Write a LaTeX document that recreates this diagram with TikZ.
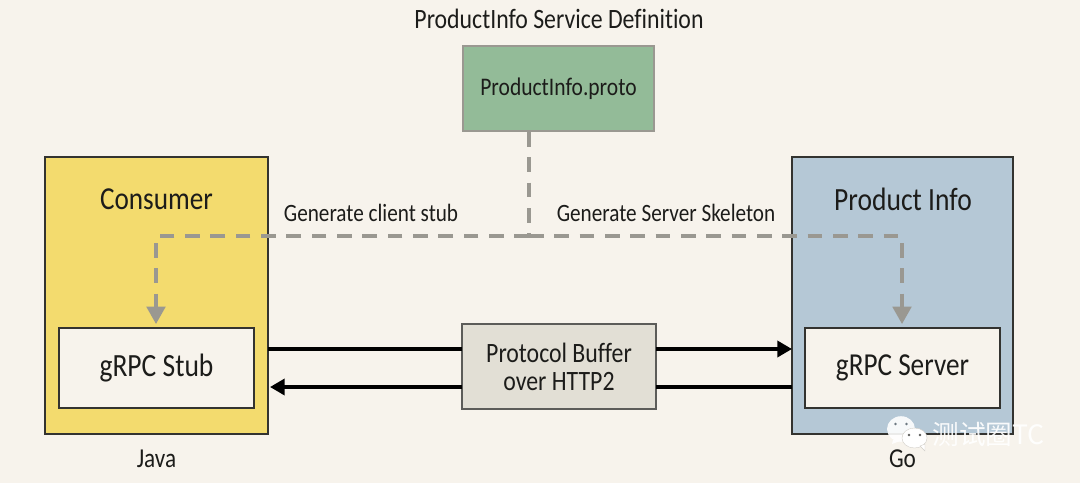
\documentclass[tikz,border=0pt]{standalone}
\usepackage{fontspec}
\setmainfont[FakeStretch=0.85,Ligatures=NoCommon]{Carlito}
\newfontfamily\cjk{Noto Sans CJK SC}
\usetikzlibrary{arrows.meta}
\definecolor{bgc}{HTML}{F7F3EC}
\definecolor{yel}{HTML}{F3DB6E}
\definecolor{blu}{HTML}{B5C8D6}
\definecolor{grn}{HTML}{93BB98}
\definecolor{pbc}{HTML}{E2DFD5}
\definecolor{dsh}{HTML}{9A9891}
\definecolor{edge}{HTML}{333330}
\definecolor{txt}{HTML}{1C1C1A}
\tikzset{
  box/.style={draw=edge,line width=1.3pt,inner sep=0pt,text=txt,align=center},
  label/.style={inner sep=0pt,text=txt},
  gen/.style={draw=dsh,line width=2.3pt,dash pattern=on 11pt off 8pt},
  genarrow/.style={gen,-{Triangle[length=13pt,width=14pt,fill=dsh]}},
  flow/.style={draw=black,line width=2.6pt},
  flowarrow/.style={flow,-{Triangle[length=11pt,width=12pt,fill=black]}}
}
\begin{document}
\begin{tikzpicture}[x=0.75pt,y=-0.75pt]
\useasboundingbox[fill=bgc] (0,0) rectangle (1080,483);
\node[box,fill=yel,minimum width=167pt,minimum height=208pt] (consumer) at (156.5,295.5) {};
\node[box,fill=blu,minimum width=166pt,minimum height=208pt] (info) at (902.5,295.5) {};
\node[box,fill=bgc,minimum width=146pt,minimum height=60pt,font=\fontsize{24.3}{26}\selectfont] (stub) at (156.5,368) {gRPC Stub};
\node[box,fill=bgc,minimum width=146pt,minimum height=60pt,font=\fontsize{24}{26}\selectfont] (server) at (902.5,368) {gRPC Server};
\node[box,draw=dsh,fill=grn,minimum width=143pt,minimum height=64pt,font=\fontsize{19}{21}\selectfont] (proto) at (558.5,88.5) {ProductInfo.proto};
\node[box,fill=pbc,minimum width=145pt,minimum height=64pt,draw=edge!80,font=\fontsize{21}{21}\selectfont] (pb) at (559,366.5) {Protocol Buffer\\over HTTP2};
\node[label,font=\fontsize{21}{23}\selectfont] (title) at (559,19) {ProductInfo Service Definition};
\node[label,font=\fontsize{24}{26}\selectfont] (cname) at (156.5,199) {Consumer};
\node[label,font=\fontsize{24.3}{26}\selectfont] (pname) at (903,199) {Product Info};
\node[label,font=\fontsize{18.7}{20}\selectfont] (glabel1) at (371,213) {Generate client stub};
\node[label,font=\fontsize{18.7}{20}\selectfont] (glabel2) at (666,213) {Generate Server Skeleton};
\node[label,font=\fontsize{20.5}{22}\selectfont] (java) at (156.5,459) {Java};
\node[label,font=\fontsize{20.5}{22}\selectfont] (go) at (902.5,459) {Go};
\coordinate (junction) at (529,236);
\coordinate (protofoot) at (529,132);
\coordinate (cornerl) at (156,236);
\coordinate (cornerr) at (902,236);
\coordinate (stubtop) at (156,324);
\coordinate (servertop) at (902,324);
\draw[gen] (protofoot) -- (junction);
\draw[genarrow] (junction) -- (cornerl) -- (stubtop);
\draw[genarrow] (junction) -- (cornerr) -- (servertop);
\coordinate (a1) at (268,349); \coordinate (a2) at (462,349);
\coordinate (a3) at (656,349); \coordinate (a4) at (792,349);
\coordinate (b1) at (792,387); \coordinate (b2) at (656,387);
\coordinate (b3) at (462,387); \coordinate (b4) at (270,387);
\draw[flow] (a1) -- (a2);
\draw[flowarrow] (a3) -- (a4);
\draw[flow] (b1) -- (b2);
\draw[flowarrow] (b3) -- (b4);
% watermark
\fill[white,opacity=.9] (901,429) ellipse [x radius=10.5pt,y radius=9.6pt];
\fill[white,opacity=.9] (893,440) -- (892,444) -- (900,441) -- cycle;
\fill[white,draw=bgc!85!black,line width=.3pt] (914.5,438) ellipse [x radius=9.4pt,y radius=7.5pt];
\fill[white,draw=bgc!85!black,line width=.3pt] (920,446) -- (925,451) -- (925,444) -- cycle;
\fill[blu!60!black] (895.5,424) circle (1.1pt) (906.5,424) circle (1.1pt);
\fill[edge!80] (909,435) circle (1pt) (920,435) circle (1pt);
\node[inner sep=0pt,text=white,font=\fontsize{20}{22}\cjk,opacity=.92] (wm) at (988.5,434) {测试圈TC};
\end{tikzpicture}
\end{document}
